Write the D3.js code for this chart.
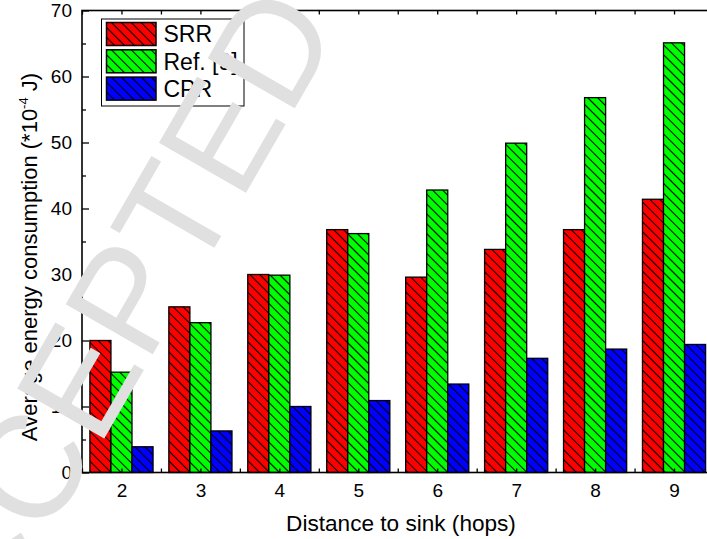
<!DOCTYPE html>
<html>
<head>
<meta charset="utf-8">
<script src="https://cdn.jsdelivr.net/npm/d3@7"></script>
<style>
  body { margin: 0; background: #fff; }
  svg { display: block; font-family: 'Liberation Sans', Arial, sans-serif; }
</style>
</head>
<body>
<div id="chart"></div>
<script>
var hops = [2, 3, 4, 5, 6, 7, 8, 9];
var seriesNames = ['SRR', 'Ref. [9]', 'CPR'];
var srr = [20.0, 25.1, 30.0, 36.8, 29.6, 33.8, 36.8, 41.4];
var ref9 = [15.2, 22.7, 29.9, 36.2, 42.8, 49.9, 56.8, 65.1];
var cpr = [3.9, 6.3, 10.0, 10.9, 13.4, 17.3, 18.7, 19.4];
var colors = ['#ff0000', '#00ff00', '#0000ff'];
var yTicks = [0, 10, 20, 30, 40, 50, 60, 70];
var watermark = 'ACCEPTED';

var width = 707,
    height = 539,
    plotLeft = 82,
    plotRight = 713.5,
    plotTop = 10.5,
    plotBottom = 472.5;

var svg = d3.select('#chart')
    .append('svg')
    .attr('width', width)
    .attr('height', height);

svg.append('defs')
  .append('pattern')
    .attr('id', 'hatch')
    .attr('patternUnits', 'userSpaceOnUse')
    .attr('width', 7)
    .attr('height', 7)
    .attr('patternTransform', 'rotate(-45)')
  .append('line')
    .attr('x1', 3.5)
    .attr('y1', 0)
    .attr('x2', 3.5)
    .attr('y2', 7)
    .attr('stroke', '#000')
    .attr('stroke-width', 1.1);

var x = d3.scaleLinear().domain([1.5, 9.5]).range([plotLeft, plotRight]);
var y = d3.scaleLinear().domain([0, 70]).range([plotBottom, plotTop]);
var inner = d3.scaleBand()
    .domain(seriesNames)
    .range([0, x(2.4) - x(1.6)]);

var series = [srr, ref9, cpr];
var rows = [];
series.forEach(function (vals, s) {
  vals.forEach(function (v, i) {
    rows.push({ name: seriesNames[s], s: s, hop: hops[i], value: v });
  });
});

// bars: colour first, hatch over it
var bars = svg.append('g').classed('bars', true)
    .selectAll('g')
    .data(rows)
    .enter()
    .append('g');
bars.append('rect')
    .attr('x', function (d) { return x(d.hop - 0.4) + inner(d.name); })
    .attr('y', function (d) { return y(d.value); })
    .attr('width', inner.bandwidth())
    .attr('height', function (d) { return y(0) - y(d.value); })
    .attr('fill', function (d) { return colors[d.s]; });
bars.append('rect')
    .attr('x', function (d) { return x(d.hop - 0.4) + inner(d.name); })
    .attr('y', function (d) { return y(d.value); })
    .attr('width', inner.bandwidth())
    .attr('height', function (d) { return y(0) - y(d.value); })
    .attr('fill', 'url(#hatch)')
    .attr('stroke', '#000')
    .attr('stroke-width', 1.3);

// axes
var halfSteps = d3.range(1.5, 9.51, 0.5);
var yMinor = d3.range(5, 70, 10);

svg.append('g')
    .attr('transform', 'translate(' + plotLeft + ',0)')
    .call(d3.axisLeft(y).tickValues(yTicks).tickSize(-7).tickPadding(10))
    .call(function (g) { g.select('.domain').remove(); });
svg.append('g')
    .attr('transform', 'translate(' + plotLeft + ',0)')
    .call(d3.axisLeft(y).tickValues(yMinor).tickSize(-4).tickFormat(''))
    .call(function (g) { g.select('.domain').remove(); });
svg.append('g')
    .attr('transform', 'translate(0,' + plotBottom + ')')
    .call(d3.axisBottom(x).tickValues(halfSteps).tickSize(-4).tickFormat(''))
    .call(function (g) { g.select('.domain').remove(); });
svg.append('g')
    .attr('transform', 'translate(0,' + plotBottom + ')')
    .call(d3.axisBottom(x).tickValues(hops).tickSize(0).tickPadding(11))
    .call(function (g) { g.select('.domain').remove(); });
svg.append('g')
    .attr('transform', 'translate(0,' + plotTop + ')')
    .call(d3.axisTop(x).tickValues(halfSteps).tickSize(-4).tickFormat(''))
    .call(function (g) { g.select('.domain').remove(); });

svg.selectAll('.tick line').attr('stroke', '#000').attr('stroke-width', 1.3);
svg.selectAll('.tick text')
    .attr('font-family', "'Liberation Sans', Arial, sans-serif")
    .attr('font-size', 19)
    .attr('fill', '#000');

svg.append('rect')
    .attr('x', plotLeft)
    .attr('y', plotTop)
    .attr('width', plotRight - plotLeft)
    .attr('height', plotBottom - plotTop)
    .attr('fill', 'none')
    .attr('stroke', '#000')
    .attr('stroke-width', 1.6);

// titles
svg.append('text')
    .attr('x', 401)
    .attr('y', 531)
    .attr('text-anchor', 'middle')
    .attr('font-size', 22.6)
    .text('Distance to sink (hops)');

var yTitle = svg.append('text')
    .attr('transform', 'translate(37,257) rotate(-90)')
    .attr('text-anchor', 'middle')
    .attr('font-size', 22);
yTitle.append('tspan').text('Average energy consumption (*10');
yTitle.append('tspan')
    .attr('font-size', 13)
    .attr('dy', -9)
    .text('-4');
yTitle.append('tspan')
    .attr('dy', 9)
    .text(' J)');

// legend
var legend = svg.append('g').classed('legend', true);
legend.append('rect')
    .attr('x', 101.5)
    .attr('y', 19)
    .attr('width', 142.5)
    .attr('height', 87)
    .attr('fill', '#fff')
    .attr('stroke', '#000')
    .attr('stroke-width', 1);
var items = legend.selectAll('g.item')
    .data(seriesNames)
    .enter()
    .append('g')
    .classed('item', true)
    .attr('transform', function (d, i) {
      return 'translate(106.5,' + (22.5 + i * 27.3) + ')';
    });
items.append('rect')
    .attr('width', 49.5)
    .attr('height', 23)
    .attr('fill', function (d, i) { return colors[i]; });
items.append('rect')
    .attr('width', 49.5)
    .attr('height', 23)
    .attr('fill', 'url(#hatch)')
    .attr('stroke', '#000')
    .attr('stroke-width', 1.5);
items.append('text')
    .attr('x', 57)
    .attr('y', 11.8)
    .attr('dominant-baseline', 'central')
    .attr('font-size', 23)
    .text(function (d) { return d; });

// watermark over everything
svg.append('text')
    .attr('transform', 'translate(-56,716) rotate(-60)')
    .attr('font-size', 146)
    .attr('fill', '#e0e0e0')
    .text(watermark);
</script>
</body>
</html>
